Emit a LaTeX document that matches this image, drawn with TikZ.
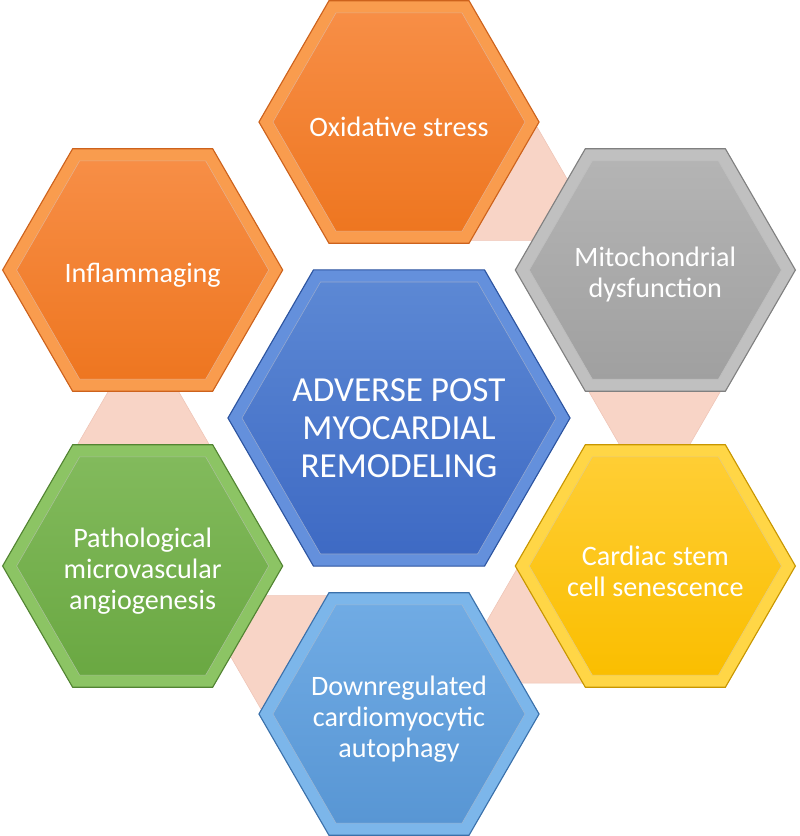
\documentclass[tikz,border=0pt]{standalone}
\usepackage{fontspec}
\setmainfont{Carlito}
\usetikzlibrary{shapes.geometric, calc, positioning}

\definecolor{orangeTop}{RGB}{247,142,70}
\definecolor{orangeBot}{RGB}{238,118,32}
\definecolor{orangeRim}{RGB}{249,156,78}
\definecolor{orangeLine}{RGB}{205,98,28}
\definecolor{greyTop}{RGB}{180,180,180}
\definecolor{greyBot}{RGB}{160,160,160}
\definecolor{greyRim}{RGB}{192,192,192}
\definecolor{greyLine}{RGB}{128,128,128}
\definecolor{yellowTop}{RGB}{255,206,52}
\definecolor{yellowBot}{RGB}{250,190,0}
\definecolor{yellowRim}{RGB}{255,214,70}
\definecolor{yellowLine}{RGB}{200,150,0}
\definecolor{greenTop}{RGB}{130,186,92}
\definecolor{greenBot}{RGB}{106,168,66}
\definecolor{greenRim}{RGB}{140,196,100}
\definecolor{greenLine}{RGB}{82,132,50}
\definecolor{skyTop}{RGB}{112,171,228}
\definecolor{skyBot}{RGB}{88,150,212}
\definecolor{skyRim}{RGB}{124,182,234}
\definecolor{skyLine}{RGB}{58,112,170}
\definecolor{blueTop}{RGB}{92,136,212}
\definecolor{blueBot}{RGB}{62,106,196}
\definecolor{blueRim}{RGB}{100,144,220}
\definecolor{blueLine}{RGB}{44,84,160}
\definecolor{linkFill}{RGB}{248,212,198}
\definecolor{linkLine}{RGB}{238,196,182}

\begin{document}
\begin{tikzpicture}[
    x=0.025cm, y=-0.025cm,
    hex/.style={regular polygon, regular polygon sides=6, inner sep=0pt, outer sep=0pt},
    rim/.style={hex, minimum size=7cm, line width=0.8pt},
    face/.style={hex, minimum size=6.3cm, line width=0.4pt},
    core rim/.style={hex, minimum size=8.55cm, line width=0.8pt},
    core face/.style={hex, minimum size=7.85cm, line width=0.4pt},
    caption/.style={text=white, align=center, yshift=-3.5pt, font=\fontsize{20}{22}\selectfont},
    core caption/.style={caption, yshift=-4pt, font=\fontsize{25}{27}\selectfont},
    link/.style={hex, minimum size=3.3cm, fill=linkFill, draw=linkLine, line width=0.4pt}
]
\useasboundingbox (0,0) rectangle (800,836);

\coordinate (c) at (399,418);

% connectors behind the ring
\node[link] (link1) at ($(c)+(-66:257)$) {};
\node[link] (link2) at ($(c)+(-6:257)$) {};
\node[link] (link3) at ($(c)+(54:257)$) {};
\node[link] (link4) at ($(c)+(114:257)$) {};
\node[link] (link5) at ($(c)+(174:257)$) {};

% outer ring
\node[rim, fill=orangeRim, draw=orangeLine] (oxid-rim) at ($(c)+(-90:296)$) {};
\node[face, top color=orangeTop, bottom color=orangeBot, draw=orangeLine!50] (oxid) at (oxid-rim) {};
\node[caption] (oxid-txt) at (oxid) {Oxidative stress};

\node[rim, fill=greyRim, draw=greyLine] (mito-rim) at ($(c)+(-30:296)$) {};
\node[face, top color=greyTop, bottom color=greyBot, draw=greyLine!50] (mito) at (mito-rim) {};
\node[caption] (mito-txt) at (mito) {Mitochondrial\\dysfunction};

\node[rim, fill=yellowRim, draw=yellowLine] (stem-rim) at ($(c)+(30:296)$) {};
\node[face, top color=yellowTop, bottom color=yellowBot, draw=yellowLine!50] (stem) at (stem-rim) {};
\node[caption] (stem-txt) at (stem) {Cardiac stem\\cell senescence};

\node[rim, fill=skyRim, draw=skyLine] (auto-rim) at ($(c)+(90:296)$) {};
\node[face, top color=skyTop, bottom color=skyBot, draw=skyLine!50] (auto) at (auto-rim) {};
\node[caption] (auto-txt) at (auto) {Downregulated\\cardiomyocytic\\autophagy};

\node[rim, fill=greenRim, draw=greenLine] (angio-rim) at ($(c)+(150:296)$) {};
\node[face, top color=greenTop, bottom color=greenBot, draw=greenLine!50] (angio) at (angio-rim) {};
\node[caption] (angio-txt) at (angio) {Pathological\\microvascular\\angiogenesis};

\node[rim, fill=orangeRim, draw=orangeLine] (infl-rim) at ($(c)+(210:296)$) {};
\node[face, top color=orangeTop, bottom color=orangeBot, draw=orangeLine!50] (infl) at (infl-rim) {};
\node[caption] (infl-txt) at (infl) {Inflammaging};

% centre
\node[core rim, fill=blueRim, draw=blueLine] (core-rim) at (c) {};
\node[core face, top color=blueTop, bottom color=blueBot, draw=blueLine!50] (core) at (core-rim) {};
\node[core caption] (core-txt) at (core) {ADVERSE POST\\MYOCARDIAL\\REMODELING};

\end{tikzpicture}
\end{document}
